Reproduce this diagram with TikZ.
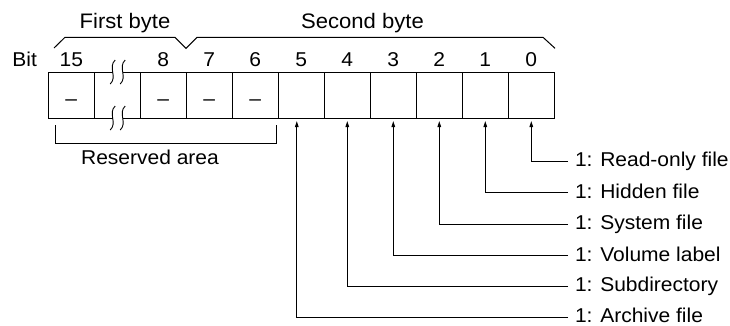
\documentclass[tikz,border=0pt]{standalone}
\usepackage{fontspec}
\setmainfont[FakeStretch=1.05]{Liberation Sans}
\usetikzlibrary{arrows.meta,calc}
\begin{document}
\begin{tikzpicture}[x=1pt,y=-1pt,line width=1pt,
  cell/.style={draw, minimum width=46pt, minimum height=46pt, inner sep=0pt, outer sep=0pt},
  num/.style={anchor=base, inner sep=0pt, font=\fontsize{20}{24}\selectfont},
  head/.style={anchor=base, inner sep=0pt, font=\fontsize{21}{25}\selectfont},
  dashtxt/.style={anchor=base, inner sep=0pt, font=\fontsize{20}{24}\selectfont},
  lbl/.style={anchor=west, inner sep=0pt, outer xsep=7pt, text height=10.9pt, text depth=0.5pt, font=\fontsize{20}{24}\selectfont},
  arr/.style={-{Triangle[length=6pt,width=3.5pt]}, shorten >=3pt},
  brk/.style={line width=0.9pt}]
\useasboundingbox (0,0) rectangle (730,325);
% cells
\node[cell] (c0) at (71.3,95) {};
\node[cell, draw=none] (c1) at (117.3,95) {};
\node[cell] (c2) at (163.3,95) {};
\node[cell] (c3) at (209.3,95) {};
\node[cell] (c4) at (255.3,95) {};
\node[cell] (c5) at (301.3,95) {};
\node[cell] (c6) at (347.3,95) {};
\node[cell] (c7) at (393.3,95) {};
\node[cell] (c8) at (439.3,95) {};
\node[cell] (c9) at (485.3,95) {};
\node[cell] (c10) at (531.3,95) {};
% broken cell edges
\draw (c1.north west) -- (112.7,72);
\draw (122.7,72) -- (c1.north east);
\draw (c1.south west) -- (112.7,118);
\draw (122.7,118) -- (c1.south east);
\foreach \yy in {72,118}{
  \foreach \xx in {112.7,122.7}{
    \draw[brk] (\xx+2.5,\yy-12) .. controls (\xx-5,\yy-5) and (\xx+5,\yy+5) .. (\xx-2.5,\yy+12);
  }
}
% dashes
\node[dashtxt] (d0) at ($(c0.center)+(0,10.5)$) {–};
\node[dashtxt] (d2) at ($(c2.center)+(0,10.5)$) {–};
\node[dashtxt] (d3) at ($(c3.center)+(0,10.5)$) {–};
\node[dashtxt] (d4) at ($(c4.center)+(0,10.5)$) {–};
% bit numbers
\coordinate (bitrow) at (0,66.5);
\node[num] (bit) at (24.7,66.5) {Bit};
\node[num] (b15) at (c0 |- bitrow) {15};
\node[num] (b8) at (c2 |- bitrow) {8};
\node[num] (b7) at (c3 |- bitrow) {7};
\node[num] (b6) at (c4 |- bitrow) {6};
\node[num] (b5) at (c5 |- bitrow) {5};
\node[num] (b4) at (c6 |- bitrow) {4};
\node[num] (b3) at (c7 |- bitrow) {3};
\node[num] (b2) at (c8 |- bitrow) {2};
\node[num] (b1) at (c9 |- bitrow) {1};
\node[num] (b0) at (c10 |- bitrow) {0};
% byte headers
\node[head] (first) at (125,28.5) {First byte};
\node[head] (second) at (362.5,28.5) {Second byte};
\draw (54,48) -- (65,37.3) -- (175,37.3) -- (186,48.3) -- (197,37.3) -- (543,37.3) -- (555,48.3);
% reserved area
\draw (55.5,125) -- (55.5,143.5) -- (276.7,143.5) -- (276.7,125);
\node[num] (res) at (150,164) {Reserved area};
% labels
\node[lbl] (l0) at (568,161.5) {1: Read-only file};
\node[lbl] (l1) at (568,192.8) {1: Hidden file};
\node[lbl] (l2) at (568,224.3) {1: System file};
\node[lbl] (l3) at (568,255.8) {1: Volume label};
\node[lbl] (l4) at (568,286.2) {1: Subdirectory};
\node[lbl] (l5) at (568,317.3) {1: Archive file};
\draw[arr] (l0.west) -| (c10.south);
\draw[arr] (l1.west) -| (c9.south);
\draw[arr] (l2.west) -| (c8.south);
\draw[arr] (l3.west) -| (c7.south);
\draw[arr] (l4.west) -| (c6.south);
\draw[arr] (l5.west) -| ($(c5.south)+(-4.5,0)$);
\end{tikzpicture}
\end{document}
